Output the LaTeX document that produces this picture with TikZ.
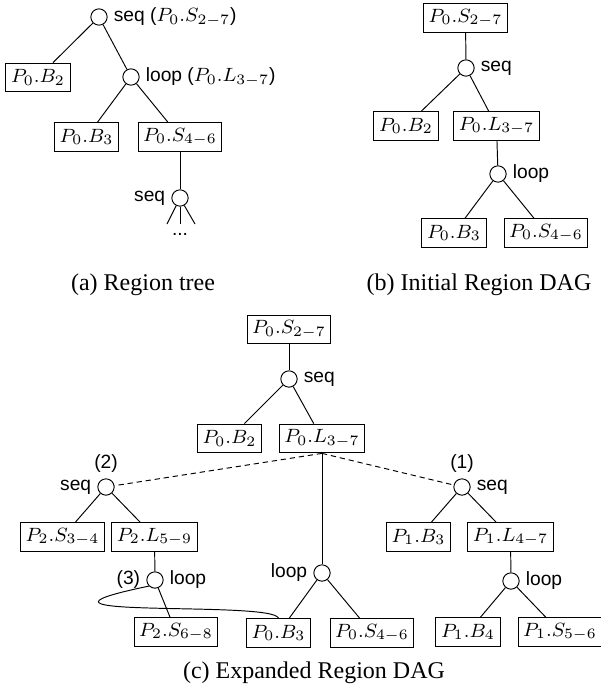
\documentclass[tikz,border=0pt]{standalone}
\usepackage[no-math]{fontspec}
\setmainfont{Liberation Serif}
\setsansfont{Liberation Sans}
\usetikzlibrary{positioning}

\begin{document}
\begin{tikzpicture}[x=0.41667pt, y=-0.41667pt, thin]
	\tikzstyle{region}=[draw=black,rectangle,inner xsep=2.1pt,inner ysep=0pt,minimum height=12pt,font=\footnotesize]
	\tikzstyle{op}=[draw=black,circle,minimum size=6.8pt,inner sep=0pt]
	\tikzstyle{every label}=[font=\footnotesize\sffamily,inner sep=2.4pt]
	\tikzstyle{back}=[dash pattern=on 2.2pt off 1.6pt]
	\tikzstyle{subcap}=[font=\normalsize]
	\useasboundingbox (0,0) rectangle (600,692);

	% (a) region tree
	\node[op,label=right:{seq ($P_0.S_{2-7}$)}]  (a1)  at (99,17)    {};
	\node[region]                                 (aB2) at (38,77.5)  {$P_0.B_2$};
	\node[op,label=right:{loop ($P_0.L_{3-7}$)}] (a2)  at (131,77)   {};
	\node[region]                                 (aB3) at (86.5,137) {$P_0.B_3$};
	\node[region]                                 (aS)  at (180,137)  {$P_0.S_{4-6}$};
	\node[op,label=left:seq]                      (a3)  at (180,198)  {};
	\coordinate (al) at (167,224);
	\coordinate (am) at (180,224);
	\coordinate (ar) at (195,224);
	\node[font=\footnotesize\sffamily,inner sep=0pt] (adots) at (180,234) {...};
	\path
	(a1) edge (aB2)
	     edge (a2)
	(a2) edge (aB3)
	     edge (aS)
	(aS) edge (a3)
	(a3) edge (al)
	     edge (am)
	     edge (ar);
	\node[subcap] (capa) at (143,285) {(a) Region tree};

	% (b) initial region DAG
	\node[region]                 (bS)  at (465.5,18) {$P_0.S_{2-7}$};
	\node[op,label=right:seq]     (b1)  at (466,68)   {};
	\node[region]                 (bB2) at (406,126)  {$P_0.B_2$};
	\node[region]                 (bL)  at (496.5,126){$P_0.L_{3-7}$};
	\node[op,label=right:loop]    (b2)  at (498,174)  {};
	\node[region]                 (bB3) at (454,233)  {$P_0.B_3$};
	\node[region]                 (bS4) at (546,233)  {$P_0.S_{4-6}$};
	\path
	(bS) edge (b1)
	(b1) edge (bB2)
	     edge (bL)
	(bL) edge (b2)
	(b2) edge (bB3)
	     edge (bS4);
	\node[subcap] (capb) at (479,285) {(b) Initial Region DAG};

	% (c) expanded region DAG
	\node[region]                 (cS)   at (289,329.5) {$P_0.S_{2-7}$};
	\node[op,label=right:seq]     (c1)   at (289,379)   {};
	\node[region]                 (cB2)  at (229.5,438.5) {$P_0.B_2$};
	\node[region]                 (cL)   at (322,438.5) {$P_0.L_{3-7}$};
	\node[op,label=left:seq,label=above:(2)]  (c2) at (106,487) {};
	\node[op,label=right:seq,label=above:(1)] (c3) at (462,487) {};
	\node[region]                 (cS34) at (62.5,537)  {$P_2.S_{3-4}$};
	\node[region]                 (cL59) at (154.5,537) {$P_2.L_{5-9}$};
	\node[op,label=left:(3),label=right:loop] (c4) at (155,580) {};
	\node[region]                 (cS68) at (176,632)   {$P_2.S_{6-8}$};
	\node[op,label=left:loop]     (c5)   at (322,573)   {};
	\node[region]                 (cB3)  at (278.5,633) {$P_0.B_3$};
	\node[region]                 (cS46) at (372,633)   {$P_0.S_{4-6}$};
	\node[region]                 (cP13) at (418.5,537) {$P_1.B_3$};
	\node[region]                 (cL47) at (510.5,537) {$P_1.L_{4-7}$};
	\node[op,label=right:loop]    (c6)   at (511,581)   {};
	\node[region]                 (cB4)  at (468,632)   {$P_1.B_4$};
	\node[region]                 (cS56) at (560,632)   {$P_1.S_{5-6}$};
	\path
	(cS)   edge (c1)
	(c1)   edge (cB2)
	       edge (cL)
	(cL.south) edge[back] (c2)
	       edge[back] (c3)
	       edge (c5)
	(c2)   edge (cS34)
	       edge (cL59)
	(cL59) edge (c4)
	(c4)   edge (cS68)
	(c5)   edge (cB3)
	       edge (cS46)
	(c3)   edge (cP13)
	       edge (cL47)
	(cL47) edge (c6)
	(c6)   edge (cB4)
	       edge (cS56);
	\draw (c4.225) .. controls (-15,620) and (272,600) .. (cB3.north);
	\node[subcap] (capc) at (314,673) {(c) Expanded Region DAG};
\end{tikzpicture}
\end{document}
